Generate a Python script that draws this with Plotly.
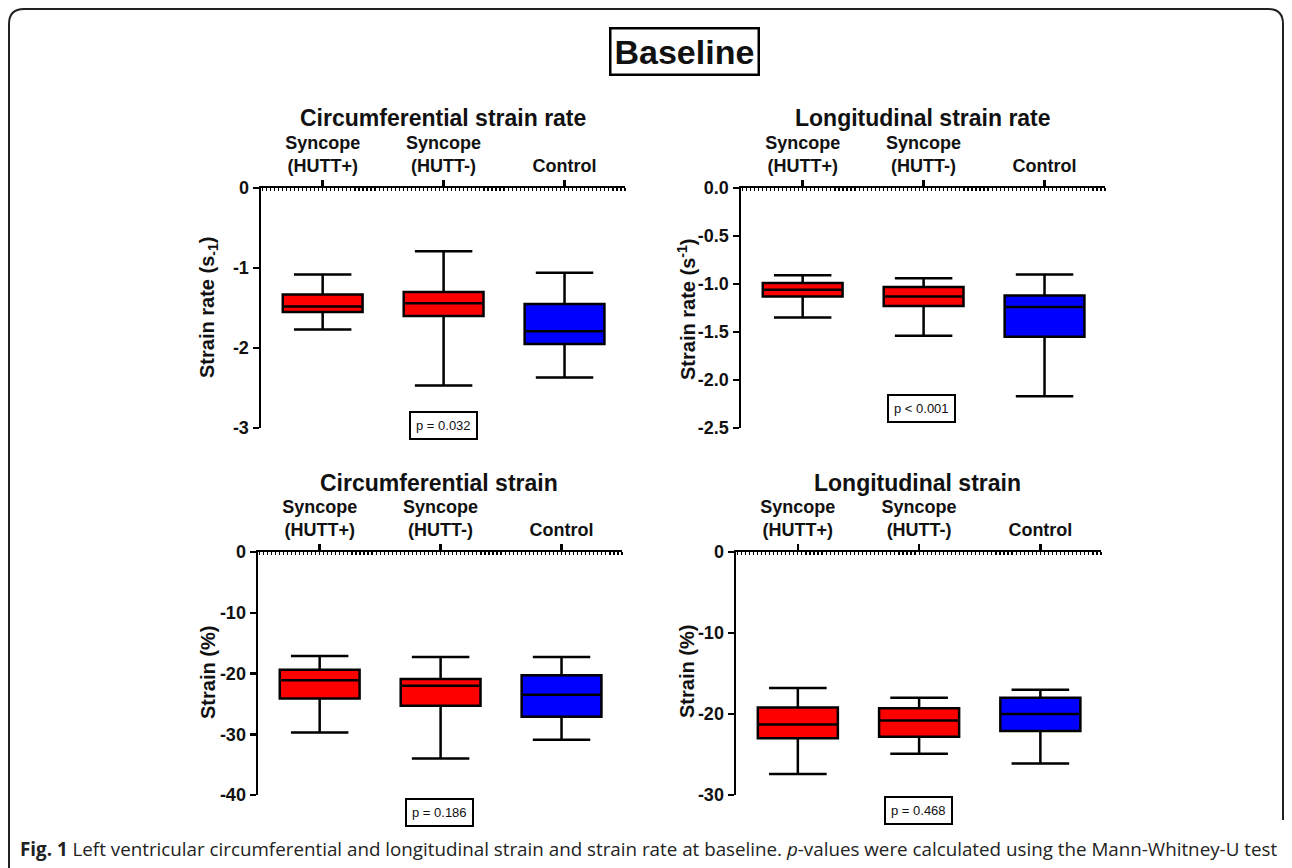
import plotly.graph_objects as go

W, H = 1292, 868

categories = ["Syncope<br>(HUTT+)", "Syncope<br>(HUTT-)", "Control"]
positions = [0, 1, 2]
box_colors = ["#ff0000", "#ff0000", "#0000ff"]

# Circumferential strain rate (s-1)
csr_upper = [-1.08, -0.79, -1.06]
csr_q3 = [-1.33, -1.30, -1.45]
csr_median = [-1.48, -1.44, -1.79]
csr_q1 = [-1.55, -1.60, -1.95]
csr_lower = [-1.77, -2.47, -2.37]
csr_ticks = [0, -1, -2, -3]
csr_ticklabels = ["0", "-1", "-2", "-3"]

# Longitudinal strain rate (s-1)
lsr_upper = [-0.91, -0.94, -0.90]
lsr_q3 = [-0.99, -1.03, -1.12]
lsr_median = [-1.06, -1.13, -1.24]
lsr_q1 = [-1.13, -1.23, -1.55]
lsr_lower = [-1.35, -1.54, -2.17]
lsr_ticks = [0, -0.5, -1.0, -1.5, -2.0, -2.5]
lsr_ticklabels = ["0.0", "-0.5", "-1.0", "-1.5", "-2.0", "-2.5"]

# Circumferential strain (%)
cs_upper = [-17.1, -17.3, -17.3]
cs_q3 = [-19.4, -20.9, -20.3]
cs_median = [-21.1, -22.0, -23.5]
cs_q1 = [-24.1, -25.3, -27.1]
cs_lower = [-29.7, -34.0, -30.9]
cs_ticks = [0, -10, -20, -30, -40]
cs_ticklabels = ["0", "-10", "-20", "-30", "-40"]

# Longitudinal strain (%)
ls_upper = [-16.8, -18.0, -17.0]
ls_q3 = [-19.2, -19.3, -18.0]
ls_median = [-21.3, -20.8, -20.0]
ls_q1 = [-23.0, -22.8, -22.1]
ls_lower = [-27.4, -24.9, -26.1]
ls_ticks = [0, -10, -20, -30]
ls_ticklabels = ["0", "-10", "-20", "-30"]

panel_titles = ["Circumferential strain rate", "Longitudinal strain rate",
                "Circumferential strain", "Longitudinal strain"]
y_titles = ["Strain rate (s<sub>-1</sub>)", "Strain rate (s<sup>-1</sup>)",
            "Strain (%)", "Strain (%)"]
p_values = ["p = 0.032", "p < 0.001", "p = 0.186", "p = 0.468"]
y_ranges = [[-3, 0], [-2.5, 0], [-40, 0], [-30, 0]]
y_tickvals = [csr_ticks, lsr_ticks, cs_ticks, ls_ticks]
y_ticktexts = [csr_ticklabels, lsr_ticklabels, cs_ticklabels, ls_ticklabels]

stats = [
    (csr_lower, csr_q1, csr_median, csr_q3, csr_upper),
    (lsr_lower, lsr_q1, lsr_median, lsr_q3, lsr_upper),
    (cs_lower, cs_q1, cs_median, cs_q3, cs_upper),
    (ls_lower, ls_q1, ls_median, ls_q3, ls_upper),
]

# layout geometry (pixels)
plot_px = [  # x0, x1, y_top, y_bottom
    (261, 625, 188, 428),
    (741, 1105, 188, 428),
    (258, 622, 552, 795),
    (736, 1101, 552, 795),
]
title_px = [(443, 118), (923, 118), (439, 483), (917, 483)]
ytitle_px = [(208, 308), (686, 310), (208, 673), (687, 672)]
pbox_px = [(443, 425), (921, 409), (439, 812), (918, 810)]

FONT = "Liberation Sans, Arial, sans-serif"

def px2x(px):
    return px / W

def px2y(py):
    return 1 - py / H

fig = go.Figure()

layout = dict(
    width=W, height=H,
    margin=dict(l=0, r=0, t=0, b=0, pad=0, autoexpand=False),
    paper_bgcolor="white", plot_bgcolor="white",
    showlegend=False, hovermode=False,
    font=dict(family=FONT, color="black"),
    annotations=[], shapes=[],
)

for i in range(4):
    idx = "" if i == 0 else str(i + 1)
    lower, q1, med, q3, upper = stats[i]
    for j in range(3):
        fig.add_trace(go.Box(
            x=[positions[j]], lowerfence=[lower[j]], q1=[q1[j]], median=[med[j]],
            q3=[q3[j]], upperfence=[upper[j]],
            width=0.66, whiskerwidth=0.72,
            fillcolor=box_colors[j], line=dict(color="black", width=2.5),
            boxpoints=False,
            xaxis="x" + idx, yaxis="y" + idx,
        ))
    x0, x1, yt, yb = plot_px[i]
    layout["xaxis" + idx] = dict(
        domain=[px2x(x0), px2x(x1)], range=[-0.51, 2.5],
        anchor="y" + idx, side="top", automargin=False,
        tickmode="array", tickvals=positions, ticktext=categories,
        ticks="outside", ticklen=6, tickwidth=2.5, tickcolor="black",
        showline=True, linewidth=2.5, linecolor="black",
        showgrid=False, zeroline=False,
        tickfont=dict(family=FONT, size=18, weight="bold", color="#111"),
        minor=dict(ticks="inside", ticklen=3, tickwidth=1.2, tickcolor="black",
                   dtick=1 / 30, tick0=0, showgrid=False),
        fixedrange=True,
    )
    layout["yaxis" + idx] = dict(
        domain=[px2y(yb), px2y(yt)], range=y_ranges[i],
        anchor="x" + idx, automargin=False,
        tickmode="array", tickvals=y_tickvals[i], ticktext=y_ticktexts[i],
        ticks="outside", ticklen=6, tickwidth=2.5, tickcolor="black",
        showline=True, linewidth=2.5, linecolor="black",
        showgrid=False, zeroline=False,
        tickfont=dict(family=FONT, size=18, weight="bold", color="#111"),
        fixedrange=True,
    )
    tx, ty = title_px[i]
    layout["annotations"].append(dict(
        text=panel_titles[i], x=px2x(tx), y=px2y(ty), xref="paper", yref="paper",
        showarrow=False, xanchor="center", yanchor="middle",
        font=dict(family=FONT, size=23, weight="bold", color="#111"),
    ))
    ax, ay = ytitle_px[i]
    layout["annotations"].append(dict(
        text=y_titles[i], x=px2x(ax), y=px2y(ay), xref="paper", yref="paper",
        showarrow=False, xanchor="center", yanchor="middle", textangle=-90,
        font=dict(family=FONT, size=20, weight="bold", color="#111"),
    ))
    bx, by = pbox_px[i]
    layout["annotations"].append(dict(
        text=p_values[i], x=px2x(bx), y=px2y(by), xref="paper", yref="paper",
        showarrow=False, xanchor="center", yanchor="middle",
        bordercolor="black", borderwidth=2, borderpad=5, bgcolor="white",
        font=dict(family=FONT, size=13, color="#111"),
    ))

# main title
layout["annotations"].append(dict(
    text="Baseline", x=px2x(684), y=px2y(52), xref="paper", yref="paper",
    showarrow=False, xanchor="center", yanchor="middle",
    bordercolor="black", borderwidth=2.5, borderpad=3, bgcolor="white",
    font=dict(family=FONT, size=34, weight="bold", color="#111"),
))

# caption
layout["annotations"].append(dict(
    text="<b>Fig. 1</b> Left ventricular circumferential and longitudinal strain and strain rate at baseline. "
         "<i>p</i>-values were calculated using the Mann-Whitney-U test",
    x=px2x(18), y=px2y(849), xref="paper", yref="paper",
    showarrow=False, xanchor="left", yanchor="middle",
    font=dict(family="Open Sans, sans-serif", size=18.8, color="#222"),
))

# rounded frame
r = 15
fx0, fy0, fx1 = 9, 9, 1283
frame_bottom_left = 868
frame_bottom_right = 820
path = (f"M {px2x(fx0)},{px2y(frame_bottom_left)} L {px2x(fx0)},{px2y(fy0 + r)} "
        f"Q {px2x(fx0)},{px2y(fy0)} {px2x(fx0 + r)},{px2y(fy0)} "
        f"L {px2x(fx1 - r)},{px2y(fy0)} "
        f"Q {px2x(fx1)},{px2y(fy0)} {px2x(fx1)},{px2y(fy0 + r)} "
        f"L {px2x(fx1)},{px2y(frame_bottom_right)}")
layout["shapes"].append(dict(type="path", path=path, xref="paper", yref="paper",
                             line=dict(color="#222", width=2)))

fig.update_layout(**layout)
fig.write_html(
    "out.html",
    config={"displayModeBar": False, "staticPlot": True},
    post_script=(
        "var h=document.documentElement, b=document.body;"
        "h.style.margin='0'; h.style.padding='0'; h.style.overflow='hidden';"
        "h.style.height='868px';"
        "b.style.margin='0'; b.style.padding='0'; b.style.overflow='hidden';"
        "b.style.height='868px'; b.style.fontSize='0'; b.style.lineHeight='0';"
    ),
)
